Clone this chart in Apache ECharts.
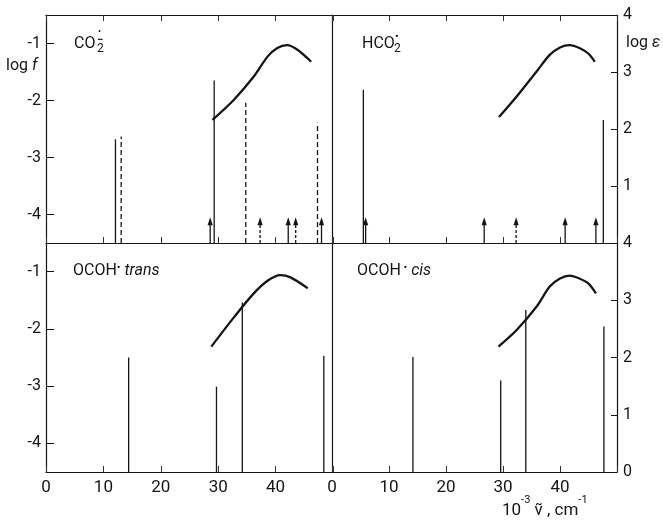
<!DOCTYPE html>
<html><head><meta charset="utf-8">
<script src="https://cdn.jsdelivr.net/npm/echarts@6/dist/echarts.min.js"></script>
<style>html,body{margin:0;padding:0;background:#fff}#c{width:663px;height:521px}</style>
</head><body><div id="c"></div>
<script>
// ---- data ----
const xTickValues = [0, 10, 20, 30, 40, 50];
const logfTicks = [-4, -3, -2, -1];
const logeTicks = [0, 1, 2, 3, 4];
const baseLogF = -4.5;   // bottom of each panel (log f)
const topLogF = -0.5;    // top of each panel (log f)
const arrowTop = -4.05;  // tip of the "forbidden" arrows

// CO2·−  (top left)
const co2Solid = [[12.1, -2.68], [29.3, -1.65]];
const co2Dashed = [[13.1, -2.63], [34.8, -2.04], [47.3, -2.39]];
const co2ArrowSolid = [28.6, 42.2, 48.0];
const co2ArrowDashed = [37.3, 43.5];
const co2Curve = [[29.0, 2.16], [32.7, 2.51], [36.2, 2.92], [38.6, 3.27], [40.3, 3.42], [42.0, 3.47], [43.8, 3.39], [46.2, 3.18]];

// HCO2·  (top right)
const hco2Solid = [[5.5, -1.81], [47.6, -2.34]];
const hco2ArrowSolid = [5.9, 26.7, 40.9, 46.3];
const hco2ArrowDashed = [32.3];
const hco2Curve = [[29.3, 2.21], [32.4, 2.57], [35.9, 3.01], [38.2, 3.30], [40.0, 3.43], [41.7, 3.47], [43.4, 3.42], [45.0, 3.32], [46.1, 3.18]];

// OCOH· trans (bottom left)
const transSolid = [[14.4, -2.50], [29.7, -3.01], [34.2, -1.54], [48.4, -2.47]];
const transCurve = [[28.8, 2.19], [32.8, 2.71], [36.2, 3.12], [38.6, 3.34], [40.8, 3.44], [42.6, 3.40], [45.6, 3.21]];

// OCOH· cis (bottom right)
const cisSolid = [[14.2, -2.49], [29.6, -2.90], [34.0, -1.67], [47.7, -1.96]];
const cisCurve = [[29.2, 2.19], [32.4, 2.48], [35.9, 2.89], [38.2, 3.24], [40.0, 3.38], [41.7, 3.43], [43.4, 3.38], [45.0, 3.29], [46.3, 3.12]];

// ---- chart ----
const FONT = 'Roboto';
const INK = '#151515';
const chart = echarts.init(document.getElementById('c'), null, {renderer: 'canvas'});

function xAx(gi, pos, labels) {
  return {
    type: 'value', gridIndex: gi, min: 0, max: 50, interval: 10, position: pos,
    axisLine: {show: true, onZero: false, lineStyle: {color: INK, width: 1.2}},
    axisTick: {show: true, inside: true, length: 6, lineStyle: {color: '#333', width: 1}},
    axisLabel: {show: labels, margin: 7, fontFamily: FONT, fontSize: 17, color: INK,
      formatter: v => (v === 50 ? '' : String(v))},
    splitLine: {show: false}
  };
}
function yLogF(gi, labels) {
  return {
    type: 'value', gridIndex: gi, min: baseLogF, max: topLogF, position: 'left',
    axisLine: {show: true, onZero: false, lineStyle: {color: INK, width: 1.2}},
    axisTick: {show: labels, inside: true, length: 8, customValues: logfTicks, lineStyle: {color: INK}},
    axisLabel: {show: labels, margin: 5, fontFamily: FONT, fontSize: 16, color: INK,
      customValues: logfTicks, formatter: v => '-' + Math.abs(v)},
    splitLine: {show: false}
  };
}
function yLogE(gi, visible, hideZero) {
  return {
    type: 'value', gridIndex: gi, min: 0, max: 4, interval: 1, position: 'right', show: visible,
    axisLine: {show: true, onZero: false, lineStyle: {color: INK, width: 1.2}},
    axisTick: {show: true, inside: true, length: 6, customValues: logeTicks, lineStyle: {color: INK}},
    axisLabel: {show: true, margin: 6, fontFamily: FONT, fontSize: 16,
      customValues: logeTicks,
      color: v => (hideZero && v === 1 ? '#b8b8b8' : INK),
      formatter: v => (hideZero && v === 0 ? '' : String(v))},
    splitLine: {show: false}
  };
}

function stickSeries(xi, yi, data, dashed) {
  return {
    type: 'custom', xAxisIndex: xi, yAxisIndex: yi, data: data, silent: true, clip: false,
    renderItem: (p, api) => {
      const x = api.value(0), y = api.value(1);
      const a = api.coord([x, baseLogF]);
      const b = api.coord([x, y]);
      return {type: 'line', shape: {x1: a[0], y1: a[1], x2: b[0], y2: b[1]},
        style: {stroke: INK, lineWidth: 1.3, lineDash: dashed ? [5, 3] : null}};
    }
  };
}
function arrowSeries(xi, yi, xs, dashed) {
  return {
    type: 'custom', xAxisIndex: xi, yAxisIndex: yi, data: xs.map(x => [x, arrowTop]), silent: true, clip: false,
    renderItem: (p, api) => {
      const x = api.value(0), y = api.value(1);
      const a = api.coord([x, baseLogF]);
      const b = api.coord([x, y]);
      return {type: 'group', children: [
        {type: 'line', shape: {x1: a[0], y1: a[1], x2: b[0], y2: b[1] + 6},
          style: {stroke: INK, lineWidth: 1.3, lineDash: dashed ? [3, 2] : null}},
        {type: 'polygon', shape: {points: [[b[0] - 2.6, b[1] + 8], [b[0], b[1]], [b[0] + 2.6, b[1] + 8]]},
          style: {fill: INK}}
      ]};
    }
  };
}
function curveSeries(xi, yi, data) {
  return {
    type: 'line', xAxisIndex: xi, yAxisIndex: yi, data: data, smooth: 0.3, showSymbol: false,
    silent: true, lineStyle: {color: INK, width: 2.3}, z: 3
  };
}

const richTitle = {
  n: {fontFamily: FONT, fontSize: 16, fill: INK},
  d: {fontFamily: FONT, fontSize: 11, fill: INK, verticalAlign: 'top'},
  i: {fontFamily: FONT, fontSize: 16, fontStyle: 'italic', fill: INK}
};

const option = {
  backgroundColor: '#fff',
  animation: false,
  grid: [
    {left: 46, top: 15, width: 287, height: 228},
    {left: 332, top: 15, width: 285, height: 228},
    {left: 46, top: 243, width: 287, height: 229},
    {left: 332, top: 243, width: 285, height: 229}
  ],
  xAxis: [
    xAx(0, 'bottom', false), xAx(1, 'bottom', false),
    xAx(2, 'bottom', true), xAx(3, 'bottom', true),
    xAx(0, 'top', false), xAx(1, 'top', false)
  ],
  yAxis: [
    yLogF(0, true), yLogE(0, false, false),
    yLogF(1, false), yLogE(1, true, true),
    yLogF(2, true), yLogE(2, false, false),
    yLogF(3, false), yLogE(3, true, false)
  ],
  series: [
    stickSeries(0, 0, co2Solid, false), stickSeries(0, 0, co2Dashed, true),
    arrowSeries(0, 0, co2ArrowSolid, false), arrowSeries(0, 0, co2ArrowDashed, true),
    curveSeries(0, 1, co2Curve),
    stickSeries(1, 2, hco2Solid, false),
    arrowSeries(1, 2, hco2ArrowSolid, false), arrowSeries(1, 2, hco2ArrowDashed, true),
    curveSeries(1, 3, hco2Curve),
    stickSeries(2, 4, transSolid, false), curveSeries(2, 5, transCurve),
    stickSeries(3, 6, cisSolid, false), curveSeries(3, 7, cisCurve)
  ],
  graphic: [
    // panel titles
    {type: 'text', left: 74, top: 36, style: {text: 'CO', font: '16px ' + FONT, fill: INK}},
    {type: 'text', left: 97, top: 43, style: {text: '2', font: '12px ' + FONT, fill: INK}},
    {type: 'text', left: 97, top: 35, style: {text: '−', font: 'bold 11px ' + FONT, fill: INK}},
    {type: 'text', left: 98, top: 27, style: {text: '•', font: '9px ' + FONT, fill: INK}},
    {type: 'text', left: 362, top: 36, style: {text: 'HCO', font: '16px ' + FONT, fill: INK}},
    {type: 'text', left: 394, top: 43, style: {text: '2', font: '12px ' + FONT, fill: INK}},
    {type: 'text', left: 395, top: 32, style: {text: '•', font: '11px ' + FONT, fill: INK}},
    {type: 'text', left: 73, top: 263, style: {text: '{n|OCOH}{d|•}{i| trans}', rich: richTitle}},
    {type: 'text', left: 357, top: 263, style: {text: '{n|OCOH}{d| •}{i| cis}', rich: richTitle}},
    // axis names
    {type: 'text', left: 6, top: 58, style: {
      text: '{n|log }{i|f}',
      rich: {n: {fontFamily: FONT, fontSize: 16, fill: INK},
             i: {fontFamily: FONT, fontSize: 16, fontStyle: 'italic', fill: INK}}}},
    {type: 'text', left: 626, top: 35, style: {
      text: '{n|log }{i|ε}',
      rich: {n: {fontFamily: FONT, fontSize: 16, fill: INK},
             i: {fontFamily: FONT, fontSize: 16, fontStyle: 'italic', fill: INK}}}},
    {type: 'text', left: 502, top: 495, style: {
      text: '{n|10}{s|-3}{n| ν̃ , cm}{s|-1}',
      rich: {n: {fontFamily: FONT, fontSize: 17, lineHeight: 24, fill: INK, verticalAlign: 'bottom'},
             s: {fontFamily: FONT, fontSize: 11, lineHeight: 12, fill: INK, verticalAlign: 'top'}}}}
  ]
};
chart.setOption(option);
</script>
</body></html>
